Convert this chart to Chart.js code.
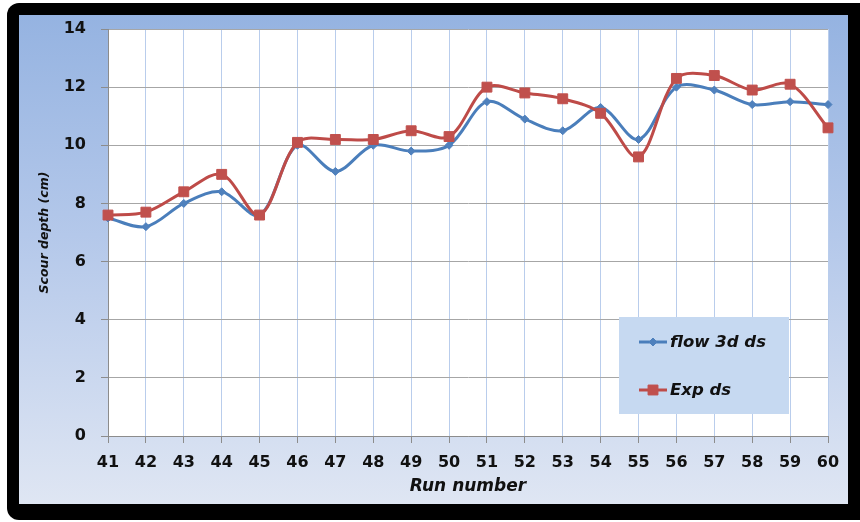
<!DOCTYPE html>
<html>
<head>
<meta charset="utf-8">
<script src="https://cdn.jsdelivr.net/npm/chart.js@4/dist/chart.umd.min.js"></script>
<style>
  html, body { margin: 0; padding: 0; background: #fff; width: 860px; height: 522px; overflow: hidden; }
  #frame { position: absolute; left: 7px; top: 3px; width: 880px; height: 517px; background: #000; border-radius: 12px; }
  #panel { position: absolute; left: 19px; top: 15px; width: 829px; height: 489px;
           background: linear-gradient(to bottom, #95b3e1 0%, #b4c8ea 45%, #dfe6f3 100%); }
  #chart { position: absolute; left: 0; top: 0; }
</style>
</head>
<body>
<div id="frame"></div>
<div id="panel"></div>
<canvas id="chart" width="860" height="522"></canvas>
<script>
// Run numbers along the x axis
const runNumbers = ['41','42','43','44','45','46','47','48','49','50',
                    '51','52','53','54','55','56','57','58','59','60'];
// Scour depth (cm) computed with FLOW-3D
const flow3dDs = [7.5, 7.2, 8.0, 8.4, 7.6, 10.0, 9.1, 10.0, 9.8, 10.0,
                  11.5, 10.9, 10.5, 11.3, 10.2, 12.0, 11.9, 11.4, 11.5, 11.4];
// Scour depth (cm) measured in the experiments
const expDs = [7.6, 7.7, 8.4, 9.0, 7.6, 10.1, 10.2, 10.2, 10.5, 10.3,
               12.0, 11.8, 11.6, 11.1, 9.6, 12.3, 12.4, 11.9, 12.1, 10.6];
// y axis range and step
const yMin = 0, yMax = 14, yStep = 2;

const seriesNames = ['flow 3d ds', 'Exp ds'];
const blue = '#4a7ebb', blueMark = '#4f81bd';
const red = '#be4b48', redMark = '#c0504d';

const tickFont = { family: 'DejaVu Sans', weight: 'bold', size: 16 };
const titleFont = { family: 'DejaVu Sans', weight: 'bold', style: 'italic', size: 17 };

// White plot area behind the grid
const plotBackground = {
  id: 'plotBackground',
  beforeDraw(chart) {
    const { ctx, chartArea: a } = chart;
    ctx.save();
    ctx.fillStyle = '#ffffff';
    ctx.fillRect(a.left, a.top, a.right - a.left, a.bottom - a.top);
    ctx.restore();
  }
};

// Boxed legend inside the plot, lower right
const boxLegend = {
  id: 'boxLegend',
  afterDatasetsDraw(chart) {
    const { ctx } = chart;
    const box = { x: 619, y: 317, w: 170, h: 97 };
    ctx.save();
    ctx.fillStyle = '#c6d9f1';
    ctx.fillRect(box.x, box.y, box.w, box.h);
    const rows = [box.y + 25, box.y + 73];
    chart.data.datasets.forEach((ds, i) => {
      const y = rows[i];
      const x0 = 639, x1 = 667, mx = (x0 + x1) / 2;
      ctx.strokeStyle = ds.borderColor;
      ctx.lineWidth = ds.borderWidth;
      ctx.beginPath(); ctx.moveTo(x0, y); ctx.lineTo(x1, y); ctx.stroke();
      ctx.fillStyle = ds.pointBackgroundColor;
      ctx.strokeStyle = ds.pointBorderColor;
      ctx.lineWidth = ds.pointBorderWidth;
      ctx.beginPath();
      if (ds.pointStyle === 'rect') {
        const s = ds.pointRadius * Math.SQRT1_2;
        ctx.rect(mx - s, y - s, 2 * s, 2 * s);
      } else {
        const r = ds.pointRadius;
        ctx.moveTo(mx, y - r); ctx.lineTo(mx + r, y); ctx.lineTo(mx, y + r); ctx.lineTo(mx - r, y); ctx.closePath();
      }
      ctx.fill(); ctx.stroke();
      ctx.fillStyle = '#111';
      ctx.font = 'italic bold 16.5px "DejaVu Sans"';
      ctx.textBaseline = 'middle';
      ctx.textAlign = 'left';
      ctx.fillText(ds.label, x1 + 3, y + 1);
    });
    ctx.restore();
  }
};

new Chart(document.getElementById('chart'), {
  type: 'line',
  data: {
    labels: runNumbers,
    datasets: [
      {
        label: seriesNames[0], data: flow3dDs, order: 1,
        borderColor: blue, borderWidth: 3, tension: 0.33, clip: false,
        pointStyle: 'rectRot', pointRadius: 4, pointBorderWidth: 1,
        pointBackgroundColor: blueMark, pointBorderColor: blueMark
      },
      {
        label: seriesNames[1], data: expDs, order: 0,
        borderColor: red, borderWidth: 3, tension: 0.33, clip: false,
        pointStyle: 'rect', pointRadius: 7, pointBorderWidth: 1,
        pointBackgroundColor: redMark, pointBorderColor: redMark
      }
    ]
  },
  options: {
    responsive: false,
    animation: false,
    layout: { padding: { left: 0, top: 29, right: 32, bottom: 0 } },
    plugins: { legend: { display: false }, tooltip: { enabled: false } },
    scales: {
      x: {
        offset: false,
        grid: { color: '#b9cdec', lineWidth: 1, tickColor: '#8c8c8c', tickLength: 7 },
        border: { color: '#8c8c8c', width: 1 },
        ticks: { font: tickFont, color: '#111', padding: 10, maxRotation: 0, autoSkip: false },
        title: { display: true, text: 'Run number', font: titleFont, color: '#111', padding: { top: 0, bottom: 25 } },
        afterFit(scale) { scale.height = 86; }
      },
      y: {
        min: yMin, max: yMax,
        grid: { color: '#a6a6a6', lineWidth: 1, tickColor: '#8c8c8c', tickLength: 7 },
        border: { color: '#8c8c8c', width: 1 },
        ticks: { stepSize: yStep, font: tickFont, color: '#111', padding: 15 },
        title: { display: true, text: 'Scour depth (cm)', color: '#111',
                 font: { family: 'DejaVu Sans', weight: 'bold', style: 'italic', size: 12.5 },
                 padding: { top: 37.5, bottom: 0 } },
        afterFit(scale) { scale.width = 108; }
      }
    }
  },
  plugins: [plotBackground, boxLegend]
});
</script>
</body>
</html>
